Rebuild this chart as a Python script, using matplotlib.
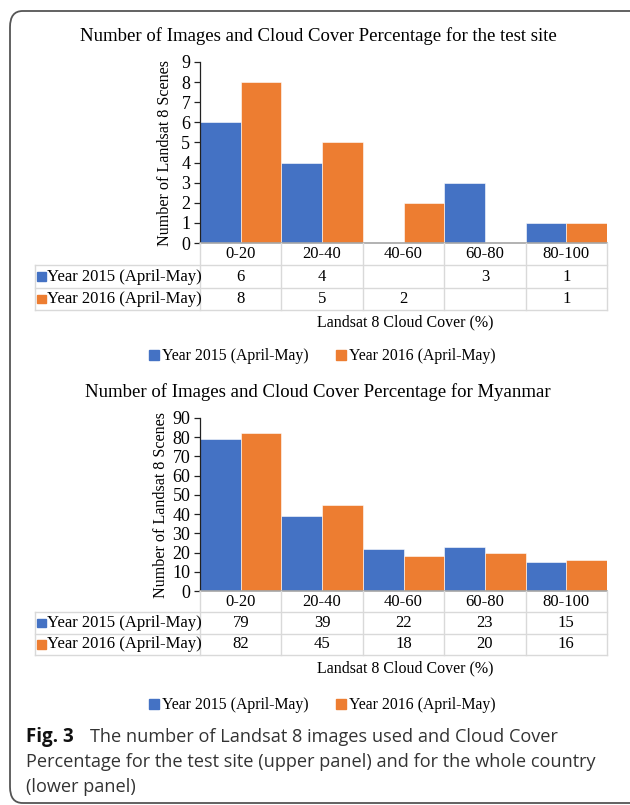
import matplotlib
matplotlib.use("Agg")
import matplotlib.pyplot as plt
import numpy as np
from matplotlib.patches import FancyBboxPatch, Rectangle
from matplotlib.lines import Line2D

W, H = 630, 805

categories = ["0-20", "20-40", "40-60", "60-80", "80-100"]
series_names = ["Year 2015 (April-May)", "Year 2016 (April-May)"]
site_2015 = [6, 4, None, 3, 1]
site_2016 = [8, 5, 2, None, 1]
mm_2015 = [79, 39, 22, 23, 15]
mm_2016 = [82, 45, 18, 20, 16]
site_ticks = list(range(0, 10))
mm_ticks = list(range(0, 100, 10))

title_site = "Number of Images and Cloud Cover Percentage for the test site"
title_mm = "Number of Images and Cloud Cover Percentage for Myanmar"
ylabel = "Number of Landsat 8 Scenes"
xlabel = "Landsat 8 Cloud Cover (%)"

BLUE = "#4472C4"
ORANGE = "#ED7D31"
GRID = "#D9D9D9"
SERIF = "Liberation Serif"

plt.rcParams['font.family'] = [SERIF, 'DejaVu Serif']

fig = plt.figure(figsize=(W / 100, H / 100), dpi=100)


def rect(x0, y0, x1, y1):
    return [x0 / W, 1 - y1 / H, (x1 - x0) / W, (y1 - y0) / H]


# outer rounded frame
frame = FancyBboxPatch((10 / W, 1 - 803 / H), 640 / W, 792 / H,
                       boxstyle="round,pad=0,rounding_size=0.02",
                       transform=fig.transFigure, fill=False,
                       edgecolor="#555555", linewidth=1.3, clip_on=False)
fig.patches.append(frame)


def panel(title, title_y, y_top, y_zero, row_ys, v15, v16, ticks, ylab_x, xlab_y, leg_y):
    x0, x1 = 200, 607
    ax = fig.add_axes(rect(x0, y_top, x1, y_zero))
    idx = np.arange(len(categories))
    b15 = [np.nan if v is None else v for v in v15]
    b16 = [np.nan if v is None else v for v in v16]
    ax.bar(idx - 0.25, b15, width=0.5, color=BLUE, edgecolor="white", linewidth=0.4)
    ax.bar(idx + 0.25, b16, width=0.5, color=ORANGE, edgecolor="white", linewidth=0.4)
    ax.set_xlim(-0.5, len(categories) - 0.5)
    ax.set_ylim(ticks[0], ticks[-1])
    ax.set_yticks(ticks)
    ax.set_yticklabels([str(t) for t in ticks], fontsize=13)
    ax.set_xticks([])
    for s in ["top", "right"]:
        ax.spines[s].set_visible(False)
    ax.spines["left"].set_color("#222222")
    ax.spines["left"].set_linewidth(0.9)
    ax.spines["bottom"].set_color("#A6A6A6")
    ax.spines["bottom"].set_linewidth(1.2)
    ax.tick_params(axis="y", direction="out", length=4, width=0.9, color="#222222", pad=3)
    ax.set_ylabel(ylabel, fontsize=11.6)
    ax.yaxis.set_label_coords((ylab_x - x0) / (x1 - x0), 0.5)
    fig.text(318 / W, 1 - title_y / H, title, ha="center", va="center", fontsize=13.5)

    # data table
    cw = (x1 - x0) / len(categories)
    lab_left = -0.5 - (x0 - 35) / cw
    tax = fig.add_axes(rect(35, y_zero, x1, row_ys[-1]))
    tax.set_xlim(lab_left, len(categories) - 0.5)
    tax.set_ylim(3, 0)
    tax.axis("off")
    for r in [1, 2, 3]:
        tax.plot([lab_left, len(categories) - 0.5], [r, r], color=GRID, lw=1.0, clip_on=False)
    for xv in np.arange(-0.5, len(categories), 1.0):
        tax.plot([xv, xv], [0, 3], color=GRID, lw=1.0, clip_on=False)
    tax.plot([lab_left, lab_left], [1, 3], color=GRID, lw=1.0, clip_on=False)
    for i, c in enumerate(categories):
        tax.text(i, 0.5, c, ha="center", va="center", fontsize=12)
    for r, (name, vals, col) in enumerate(zip(series_names, [v15, v16], [BLUE, ORANGE]), start=1):
        tax.add_patch(Rectangle((lab_left + 0.03, r + 0.32), 0.1, 0.38, color=col, clip_on=False))
        tax.text(lab_left + 0.15, r + 0.5, name, ha="left", va="center", fontsize=12)
        for i, v in enumerate(vals):
            if v is not None:
                tax.text(i, r + 0.5, str(v), ha="center", va="center", fontsize=12)
    fig.text(405 / W, 1 - xlab_y / H, xlabel, ha="center", va="center", fontsize=11.5)

    handles = [Line2D([], [], marker="s", linestyle="none", markersize=6.5, color=c) for c in [BLUE, ORANGE]]
    fig.legend(handles, series_names, loc="center", bbox_to_anchor=(321 / W, 1 - leg_y / H),
               ncol=2, frameon=False, fontsize=11.3, handletextpad=0.0, columnspacing=1.6,
               handlelength=1.0)


panel(title_site, 36, 62, 243, [265, 288, 310], site_2015, site_2016, site_ticks, 173, 322, 356)
panel(title_mm, 392, 418, 591, [612, 634, 655], mm_2015, mm_2016, mm_ticks, 169, 668, 705)

# caption
cap_font = "Open Sans"
fig.text(26 / W, 1 - 742 / H, "Fig. 3", fontfamily=cap_font, fontweight="bold",
         fontsize=13.5, color="#111111", va="baseline", ha="left")
fig.text(90 / W, 1 - 742 / H, "The number of Landsat 8 images used and Cloud Cover",
         fontfamily=cap_font, fontsize=13.1, color="#333333", va="baseline", ha="left")
fig.text(26 / W, 1 - 767 / H, "Percentage for the test site (upper panel) and for the whole country",
         fontfamily=cap_font, fontsize=13.1, color="#333333", va="baseline", ha="left")
fig.text(26 / W, 1 - 792 / H, "(lower panel)",
         fontfamily=cap_font, fontsize=13.1, color="#333333", va="baseline", ha="left")

fig.savefig("out.png", dpi=100)
